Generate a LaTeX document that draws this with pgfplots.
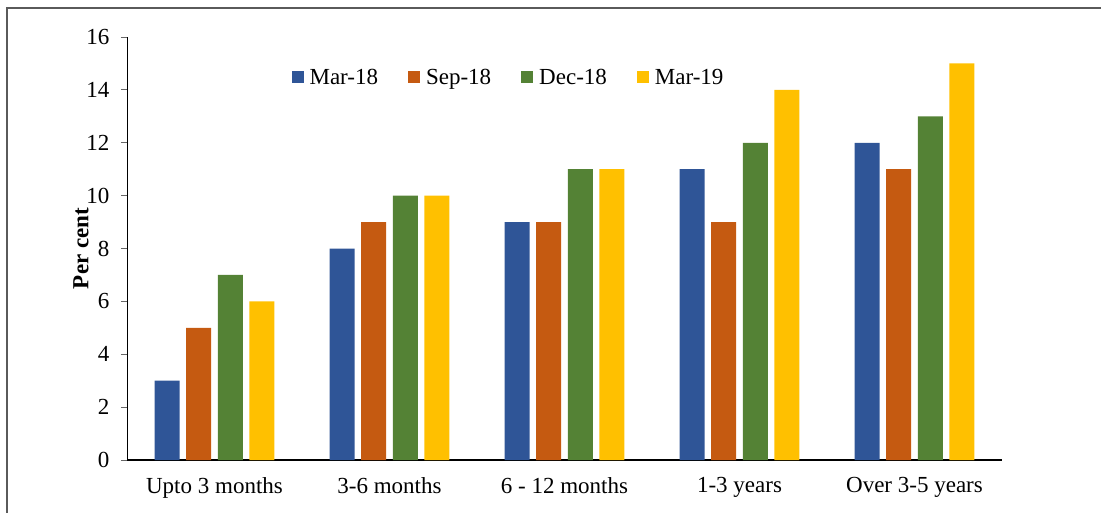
\documentclass[border=0pt]{standalone}
\usepackage{pgfplots}
\pgfplotsset{compat=1.18}
\usepackage{fontspec}
\setmainfont{Liberation Serif}
\definecolor{cblue}{HTML}{2F5597}
\definecolor{corange}{HTML}{C55A11}
\definecolor{cgreen}{HTML}{548235}
\definecolor{cyellow}{HTML}{FFC000}
\definecolor{frame}{HTML}{5A5A5A}
\begin{document}
\begin{tikzpicture}[x=1pt,y=1pt]
\useasboundingbox (0,0) rectangle (1101,512);
\draw[frame,line width=2pt] (7,-2) -- (7,503.5) -- (1103,503.5);
\begin{axis}[
  at={(127pt,52pt)}, anchor=south west,
  scale only axis, width=875pt, height=423pt,
  ybar=6.6pt, bar width=25pt,
  xmin=-0.5, xmax=4.5, ymin=0, ymax=16,
  ytick={0,2,...,16},
  xtick={0,1,2,3,4},
  xticklabels={Upto 3 months,3-6 months,6 - 12 months,1-3 years,Over 3-5 years},
  axis x line*=bottom, axis y line*=left,
  x axis line style={line width=1.8pt,-},
  y axis line style={line width=0.9pt,-},
  x tick style={draw=none},
  y tick style={color=gray!80!black,line width=0.8pt},
  ytick align=outside, major tick length=6pt,
  /pgf/number format/assume math mode=true,
  tick label style={font=\fontsize{23}{27}\selectfont,color=black},
  yticklabel style={xshift=-8pt},
  xticklabel style={yshift=-8pt},
  ylabel={Per cent},
  ylabel style={font=\fontsize{23}{27}\selectfont\bfseries, yshift=-9pt},
  legend columns=4,
  legend style={draw=none, fill=none, at={(0.436,0.905)}, anchor=center,
    font=\fontsize{23}{27}\selectfont, /tikz/every even column/.append style={column sep=28pt}},
  legend image code/.code={\fill[#1] (0pt,-6pt) rectangle (12pt,6pt); \path (16pt,0pt);},
  every axis plot/.append style={draw=none},
]
\addplot[fill=cblue] coordinates {(0,3) (1,8) (2,9) (3,11) (4,12)};
\addplot[fill=corange] coordinates {(0,5) (1,9) (2,9) (3,9) (4,11)};
\addplot[fill=cgreen] coordinates {(0,7) (1,10) (2,11) (3,12) (4,13)};
\addplot[fill=cyellow] coordinates {(0,6) (1,10) (2,11) (3,14) (4,15)};
\legend{Mar-18,Sep-18,Dec-18,Mar-19}
\end{axis}
\end{tikzpicture}
\end{document}
